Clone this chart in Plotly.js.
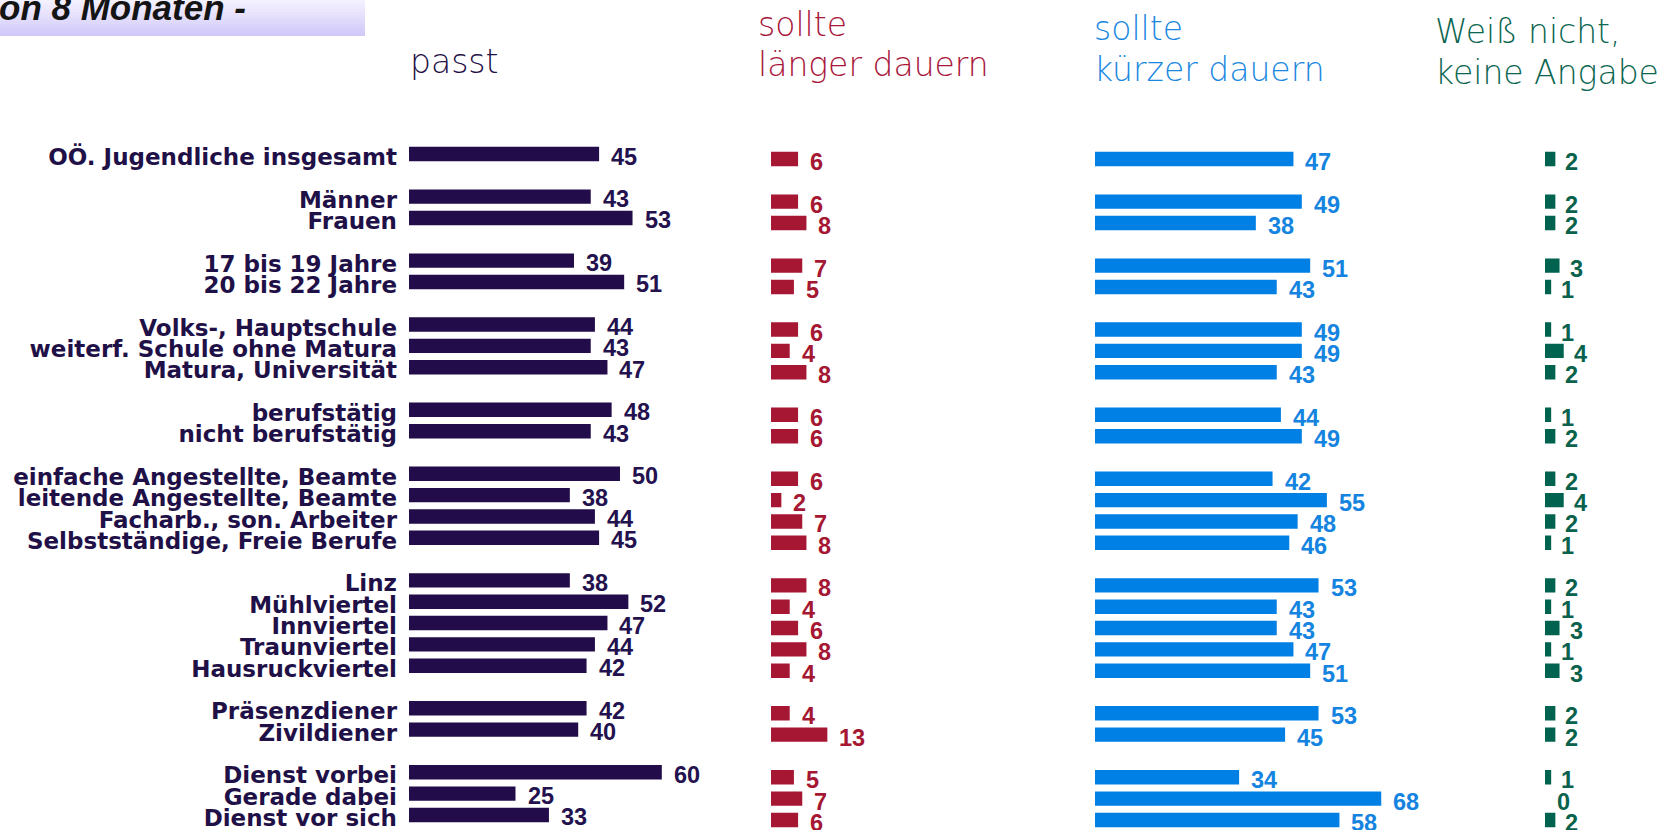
<!DOCTYPE html>
<html>
<head>
<meta charset="utf-8">
<script src="https://cdn.plot.ly/plotly-3.0.1.min.js"></script>
<style>
  html, body { margin: 0; padding: 0; background: #ffffff; }
  #chart { width: 1679px; height: 830px; }
</style>
</head>
<body>
<div id="chart"></div>
<script>
// ---------------- data ----------------
const labels = [
  "OÖ. Jugendliche insgesamt",
  "Männer", "Frauen",
  "17 bis 19 Jahre", "20 bis 22 Jahre",
  "Volks-, Hauptschule", "weiterf. Schule ohne Matura", "Matura, Universität",
  "berufstätig", "nicht berufstätig",
  "einfache Angestellte, Beamte", "leitende Angestellte, Beamte", "Facharb., son. Arbeiter", "Selbstständige, Freie Berufe",
  "Linz", "Mühlviertel", "Innviertel", "Traunviertel", "Hausruckviertel",
  "Präsenzdiener", "Zivildiener",
  "Dienst vorbei", "Gerade dabei", "Dienst vor sich"
];
const groupSizes = [1, 2, 2, 3, 2, 4, 5, 2, 3];

const passt      = [45, 43, 53, 39, 51, 44, 43, 47, 48, 43, 50, 38, 44, 45, 38, 52, 47, 44, 42, 42, 40, 60, 25, 33];
const laenger    = [6, 6, 8, 7, 5, 6, 4, 8, 6, 6, 6, 2, 7, 8, 8, 4, 6, 8, 4, 4, 13, 5, 7, 6];
const kuerzer    = [47, 49, 38, 51, 43, 49, 49, 43, 44, 49, 42, 55, 48, 46, 53, 43, 43, 47, 51, 53, 45, 34, 68, 58];
const weissNicht = [2, 2, 2, 3, 1, 1, 4, 2, 1, 2, 2, 4, 2, 1, 2, 1, 3, 1, 3, 2, 2, 1, 0, 2];

const headers = {
  passt: ["passt"],
  laenger: ["sollte", "länger dauern"],
  kuerzer: ["sollte", "kürzer dauern"],
  weiss: ["Weiß nicht,", "keine Angabe"]
};
const titleText = "on 8 Monaten -";

// ---------------- layout helpers ----------------
const W = 1679, H = 830;
const K = 4.18;            // px per percentage point
const ROW = 21.32;         // px per row slot

// row slots (one empty slot between groups)
const rowPos = [];
(function () {
  let p = 0;
  groupSizes.forEach(n => { for (let i = 0; i < n; i++) rowPos.push(p++); p++; });
})();

function yRange(firstRowPx) {
  const top = -firstRowPx / ROW;
  return [top + H / ROW, top];
}
function dom(zeroPx, maxVal) {
  return [zeroPx / W, (zeroPx + maxVal * K) / W];
}

const colors = {
  passt:  { bar: "#220c4a", txt: "#24124f" },
  laenger:{ bar: "#a51732", txt: "#a51732" },
  kuerzer:{ bar: "#0080e5", txt: "#1584e0" },
  weiss:  { bar: "#00634f", txt: "#0a614c" }
};

const panels = [
  { key: "passt",   vals: passt,      xa: "x",  ya: "y"  },
  { key: "laenger", vals: laenger,    xa: "x2", ya: "y2" },
  { key: "kuerzer", vals: kuerzer,    xa: "x3", ya: "y2" },
  { key: "weiss",   vals: weissNicht, xa: "x4", ya: "y2" }
];

const traces = panels.map(p => ({
  type: "bar",
  orientation: "h",
  x: p.vals,
  y: rowPos,
  xaxis: p.xa,
  yaxis: p.ya,
  width: 0.49,
  marker: {
    color: colors[p.key].bar,
    line: { color: colors[p.key].bar, width: p.vals.map(v => v > 0 ? 4 : 0) }
  },
  hoverinfo: "skip",
  cliponaxis: false
}));

const annotations = [];
const numFont = (c) => ({ family: "Liberation Sans, Arial, sans-serif", size: 23.5, color: c, weight: "bold" });
panels.forEach(p => {
  p.vals.forEach((v, i) => {
    annotations.push({
      x: v, y: rowPos[i], xref: p.xa, yref: p.ya,
      text: String(v), showarrow: false,
      xanchor: "left", yanchor: "middle",
      xshift: p.key === "weiss" ? 10 : 12, yshift: p.key === "passt" ? -2.5 : -3,
      font: numFont(colors[p.key].txt)
    });
  });
});

// header annotations (paper coordinates)
const hFont = (c) => ({ family: "DejaVu Sans, sans-serif", size: 33, color: c, weight: 200 });
function header(text, xPx, yPx, c) {
  annotations.push({
    x: xPx / W, y: 1 - yPx / H, xref: "paper", yref: "paper",
    text: text, showarrow: false, xanchor: "left", yanchor: "middle",
    font: hFont(c)
  });
}
header(headers.passt[0], 408, 62, "#1f1147");
header(headers.laenger[0], 756, 24, "#a8163a");
header(headers.laenger[1], 756, 64, "#a8163a");
header(headers.kuerzer[0], 1092, 29, "#1a88e0");
header(headers.kuerzer[1], 1092, 70, "#1a88e0");
header(headers.weiss[0], 1433, 31, "#0b6650");
header(headers.weiss[1], 1433, 72, "#0b6650");

// title (cut off at the top like the reference)
annotations.push({
  x: 248 / W, y: 1 - 7 / H, xref: "paper", yref: "paper",
  text: "<b><i>" + titleText + "</i></b>", showarrow: false,
  xanchor: "right", yanchor: "middle",
  font: { family: "Liberation Sans, Arial, sans-serif", size: 35, color: "#141414" }
});

// gradient box behind the title
const shapes = [];
const stripes = 12, boxH = 36, boxW = 365;
const c0 = [244, 241, 254], c1 = [210, 201, 249];
for (let s = 0; s < stripes; s++) {
  const t = s / (stripes - 1);
  const col = `rgb(${c0.map((a, j) => Math.round(a + (c1[j] - a) * t)).join(",")})`;
  shapes.push({
    type: "rect", xref: "paper", yref: "paper", layer: "below",
    x0: 0, x1: boxW / W,
    y0: 1 - (s + 1) * boxH / stripes / H, y1: 1 - s * boxH / stripes / H,
    fillcolor: col, line: { width: 0 }
  });
}

const hiddenX = (d, r) => ({ domain: d, range: r, visible: false, fixedrange: true });

const layout = {
  width: W, height: H,
  margin: { l: 0, r: 0, t: 0, b: 0, pad: 0 },
  paper_bgcolor: "#ffffff",
  plot_bgcolor: "rgba(0,0,0,0)",
  showlegend: false,
  xaxis:  hiddenX(dom(409, 80), [0, 80]),
  xaxis2: hiddenX(dom(771, 60), [0, 60]),
  xaxis3: hiddenX(dom(1095, 80), [0, 80]),
  xaxis4: hiddenX(dom(1545, 25), [0, 25]),
  yaxis: {
    domain: [0, 1], anchor: "x", range: yRange(154),
    tickmode: "array", tickvals: rowPos, ticktext: labels,
    ticks: "", showgrid: false, zeroline: false, showline: false,
    ticklabelstandoff: 11,
    ticklabelshift: -3,
    ticklabeloverflow: "allow",
    tickfont: { family: "DejaVu Sans, sans-serif", size: 23, color: "#1f1147", weight: "bold" },
    fixedrange: true
  },
  yaxis2: {
    domain: [0, 1], anchor: "x2", range: yRange(159),
    visible: false, fixedrange: true
  },
  annotations: annotations,
  shapes: shapes
};

Plotly.newPlot("chart", traces, layout, { staticPlot: true, displayModeBar: false });
</script>
</body>
</html>
